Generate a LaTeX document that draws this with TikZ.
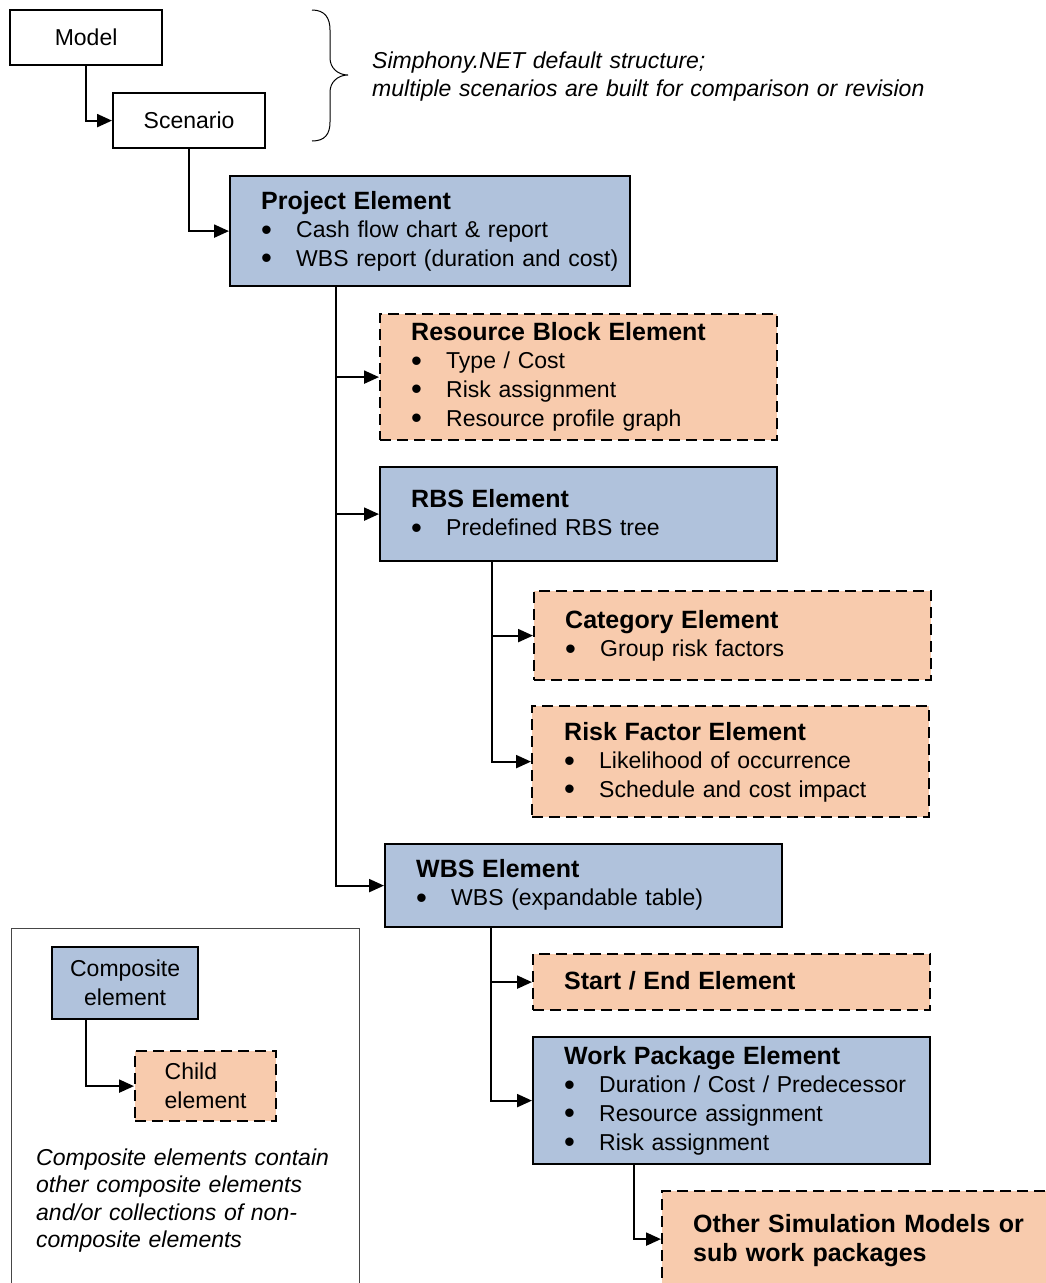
\documentclass[tikz,border=0pt]{standalone}
\usepackage{fontspec}
\setmainfont{Liberation Sans}
\usetikzlibrary{arrows.meta}

\definecolor{compfill}{RGB}{176,194,220}
\definecolor{childfill}{RGB}{248,203,173}
\definecolor{framegray}{RGB}{70,70,70}

\newcommand{\itembul}{\makebox[35pt][l]{\hspace{0pt}\raisebox{-2.5pt}{\fontsize{31}{28.7}\selectfont\textbullet}}}
\newcommand{\boxtitle}[1]{{\bfseries\fontsize{25}{28.7}\selectfont #1}}

\tikzset{
  every node/.style={font=\fontsize{23}{28.7}\selectfont},
  box/.style={draw, line width=2.2pt, rectangle, inner sep=0pt, anchor=north west},
  plainbox/.style={box, fill=white},
  compbox/.style={box, fill=compfill},
  childbox/.style={box, fill=childfill, dash pattern=on 11pt off 6pt},
  txt/.style={anchor=base west, inner sep=0pt, text width=#1, align=left},
  conn/.style={line width=2.2pt, -{Triangle[length=15pt,width=13pt]}},
}

\begin{document}
\begin{tikzpicture}[x=1pt, y=-1pt]
\useasboundingbox (0,0) rectangle (1045,1283);

% default structure
\node[plainbox, minimum width=152, minimum height=55] (model) at (9,9) {Model};
\node[plainbox, minimum width=152, minimum height=55] (scen) at (112,92) {Scenario};

% curly brace and its note
\draw[line width=1pt] (312,10) .. controls (325,10) and (330,18) .. (330,30) -- (330,58)
  .. controls (330,68) and (338,75) .. (348,75)
  .. controls (338,75) and (330,82) .. (330,92) -- (330,122)
  .. controls (330,134) and (325,141) .. (312,141);
\node[txt=640pt, font={\fontsize{23}{28}\selectfont\itshape}] (note) at (372,68)
  {Simphony.NET default structure;\\multiple scenarios are built for comparison or revision};

% element boxes
\node[compbox, minimum width=400, minimum height=110] (proj) at (229,175) {};
\node[txt=380pt] (projtext) at (261,209)
  {\boxtitle{Project Element}\\\itembul Cash flow chart \& report\\\itembul WBS report (duration and cost)};

\node[childbox, minimum width=397, minimum height=126] (res) at (379,313) {};
\node[txt=360pt] (restext) at (411,340)
  {\boxtitle{Resource Block Element}\\\itembul Type / Cost\\\itembul Risk assignment\\\itembul Resource profile graph};

\node[compbox, minimum width=397, minimum height=94] (rbs) at (379,466) {};
\node[txt=360pt] (rbstext) at (411,507)
  {\boxtitle{RBS Element}\\\itembul Predefined RBS tree};

\node[childbox, minimum width=397, minimum height=89] (cat) at (533,590) {};
\node[txt=360pt] (cattext) at (565,628)
  {\boxtitle{Category Element}\\\itembul Group risk factors};

\node[childbox, minimum width=397, minimum height=111] (risk) at (531,705) {};
\node[txt=360pt] (risktext) at (564,740)
  {\boxtitle{Risk Factor Element}\\\itembul Likelihood of occurrence\\\itembul Schedule and cost impact};

\node[compbox, minimum width=397, minimum height=83] (wbs) at (384,843) {};
\node[txt=360pt] (wbstext) at (416,877)
  {\boxtitle{WBS Element}\\\itembul WBS (expandable table)};

\node[childbox, minimum width=397, minimum height=56] (se) at (532,953) {};
\node[txt=360pt] (setext) at (564,989) {\boxtitle{Start / End Element}};

\node[compbox, minimum width=397, minimum height=127] (wp) at (532,1036) {};
\node[txt=360pt] (wptext) at (564,1064)
  {\boxtitle{Work Package Element}\\\itembul Duration / Cost / Predecessor\\\itembul Resource assignment\\\itembul Risk assignment};

\node[childbox, minimum width=390, minimum height=96] (other) at (661,1190) {};
\node[txt=360pt, font={\bfseries\fontsize{25}{29.5}\selectfont}] (othertext) at (693,1232)
  {Other Simulation Models or\\sub work packages};

% connectors
\draw[conn] (model.south) |- (scen.west);
\draw[conn] (scen.south) |- (proj.west);
\draw[conn] ([xshift=107pt]proj.south west) |- (res.west);
\draw[conn] ([xshift=107pt]proj.south west) |- (rbs.west);
\draw[conn] ([xshift=107pt]proj.south west) |- (wbs.west);
\draw[conn] ([xshift=113pt]rbs.south west) |- (cat.west);
\draw[conn] ([xshift=113pt]rbs.south west) |- (risk.west);
\draw[conn] ([xshift=107pt]wbs.south west) |- (se.west);
\draw[conn] ([xshift=107pt]wbs.south west) |- (wp.west);
\draw[conn] ([xshift=102pt]wp.south west) |- (other.west);

% legend
\node[box, draw=framegray, line width=1.2pt, minimum width=348, minimum height=370] (legend) at (11,928) {};
\node[compbox, minimum width=146, minimum height=72, align=center] (comp) at (51,946) {Composite\\element};
\node[childbox, minimum width=141, minimum height=70, align=left] (child) at (134,1050) {Child\\element};
\draw[conn] ([xshift=35pt]comp.south west) |- (child.west);
\node[txt=320pt, font={\fontsize{23}{27.5}\selectfont\itshape}] (legendtext) at (36,1165)
  {Composite elements contain\\other composite elements\\and/or collections of non-\\composite elements};

\end{tikzpicture}
\end{document}
